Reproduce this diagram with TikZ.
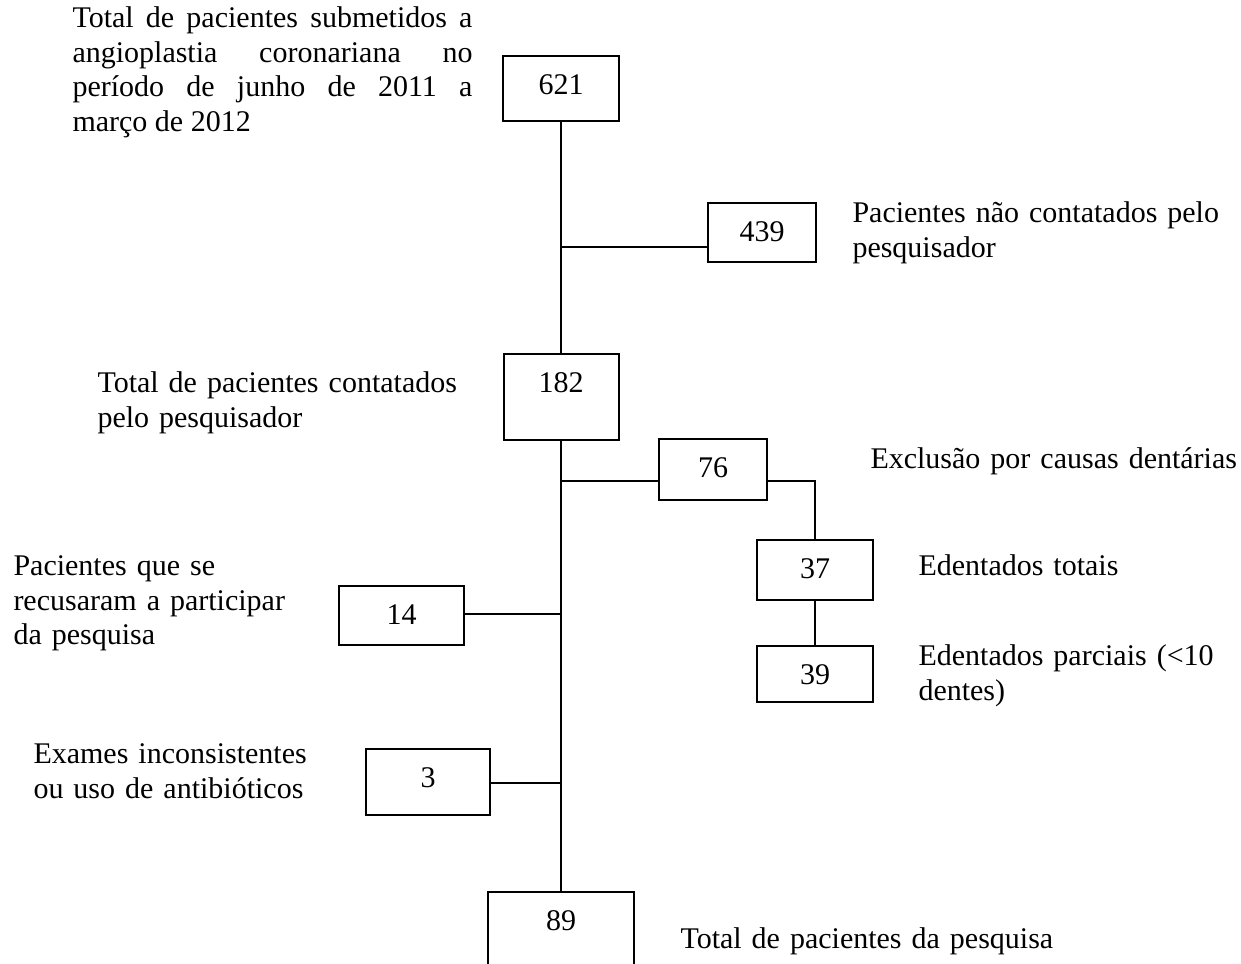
\documentclass[tikz,border=0pt]{standalone}
\usepackage{fontspec}
\setmainfont{Liberation Serif}
\usepackage{tikz}
\tolerance=10000
\hyphenpenalty=10000

\begin{document}
\begin{tikzpicture}[x=0.4pt, y=-0.4pt,
box_style/.style={draw=black, line width=0.8pt, anchor=north, inner sep=0pt, text height=15.6pt, font=\fontsize{12}{13.8}\selectfont},
text_style/.style={anchor=north west, inner sep=0pt, text width=200pt, align=left, font=\fontsize{12}{13.8}\selectfont},
edge_style/.style={draw=black, line width=0.6pt}]
\useasboundingbox (0,0) rectangle (1241,964);
\clip (0,0) rectangle (1241,964);

\node[box_style, minimum width=46.4pt, text depth=10.4pt] (a) at (561,55) {621};
\node[box_style, minimum width=43.2pt, text depth=8pt] (b) at (762,202) {439};
\node[box_style, minimum width=46pt, text depth=18.8pt] (c) at (561,353) {182};
\node[box_style, minimum width=43.2pt, text depth=8.8pt] (d) at (713,438) {76};
\node[box_style, minimum width=46.4pt, text depth=8.4pt] (e) at (815,539) {37};
\node[box_style, minimum width=46.4pt, text depth=6.8pt] (f) at (815,645) {39};
\node[box_style, minimum width=50pt, text depth=8pt] (g) at (401.5,585) {14};
\node[box_style, minimum width=49.6pt, text depth=10.8pt] (h) at (428,748) {3};
\node[box_style, minimum width=58.4pt, text depth=32.4pt] (i) at (561,891) {89};

\node[text_style, text width=160pt, align=justify] (ta) at (72,3) {\strut Total de pacientes submetidos a\linebreak angioplastia coronariana no\linebreak período de junho de 2011 a\linebreak março de 2012};
\node[text_style] (tb) at (852,198) {\strut Pacientes não contatados pelo\\pesquisador};
\node[text_style] (tc) at (97,368) {\strut Total de pacientes contatados\\pelo pesquisador};
\node[text_style] (td) at (870,444) {\strut Exclusão por causas dentárias};
\node[text_style] (te) at (918,551) {\strut Edentados totais};
\node[text_style] (tf) at (918,641) {\strut Edentados parciais (<10\\dentes)};
\node[text_style] (tg) at (13,551) {\strut Pacientes que se\\recusaram a participar\\da pesquisa};
\node[text_style] (th) at (33,739) {\strut Exames inconsistentes\\ou uso de antibióticos};
\node[text_style] (ti) at (680,924) {\strut Total de pacientes da pesquisa};

\coordinate (jb) at (561,247);
\coordinate (jd) at (561,481);
\coordinate (jg) at (561,614);
\coordinate (jh) at (561,783);

\draw[edge_style] (a) -- (c);
\draw[edge_style] (c) -- (i);
\draw[edge_style] (jb) -- (jb -| b.west);
\draw[edge_style] (jd) -- (jd -| d.west);
\draw[edge_style] (jd -| d.east) -| (e);
\draw[edge_style] (e) -- (f);
\draw[edge_style] (jg) -- (jg -| g.east);
\draw[edge_style] (jh) -- (jh -| h.east);
\end{tikzpicture}
\end{document}
